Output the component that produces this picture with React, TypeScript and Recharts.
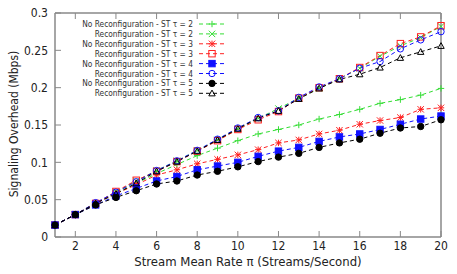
import { LineChart, Line, XAxis, YAxis } from 'recharts';

// stream mean rate (streams/second)
const rates = [1, 2, 3, 4, 5, 6, 7, 8, 9, 10, 11, 12, 13, 14, 15, 16, 17, 18, 19, 20];

// signaling overhead (Mbps)
const noReconfTau2 = [0.016, 0.03, 0.045, 0.058, 0.072, 0.085, 0.097, 0.109, 0.119, 0.129, 0.138, 0.144, 0.15, 0.158, 0.164, 0.171, 0.179, 0.184, 0.19, 0.199];
const reconfTau2 = [0.016, 0.03, 0.045, 0.06, 0.075, 0.089, 0.102, 0.116, 0.13, 0.145, 0.159, 0.172, 0.186, 0.199, 0.212, 0.226, 0.242, 0.256, 0.267, 0.282];
const noReconfTau3 = [0.016, 0.03, 0.045, 0.058, 0.07, 0.083, 0.09, 0.098, 0.104, 0.11, 0.117, 0.126, 0.13, 0.138, 0.143, 0.151, 0.156, 0.16, 0.171, 0.173];
const reconfTau3 = [0.016, 0.03, 0.045, 0.061, 0.076, 0.088, 0.101, 0.115, 0.129, 0.144, 0.157, 0.168, 0.186, 0.2, 0.212, 0.227, 0.243, 0.259, 0.268, 0.283];
const noReconfTau4 = [0.016, 0.03, 0.043, 0.055, 0.065, 0.075, 0.081, 0.09, 0.095, 0.1, 0.108, 0.115, 0.12, 0.128, 0.134, 0.138, 0.144, 0.151, 0.158, 0.162];
const reconfTau4 = [0.016, 0.03, 0.046, 0.06, 0.074, 0.089, 0.102, 0.116, 0.131, 0.146, 0.16, 0.169, 0.187, 0.201, 0.212, 0.226, 0.235, 0.252, 0.264, 0.275];
const noReconfTau5 = [0.016, 0.03, 0.043, 0.053, 0.062, 0.071, 0.075, 0.083, 0.088, 0.094, 0.101, 0.107, 0.112, 0.12, 0.126, 0.131, 0.139, 0.146, 0.148, 0.157];
const reconfTau5 = [0.016, 0.03, 0.045, 0.058, 0.072, 0.088, 0.101, 0.115, 0.13, 0.145, 0.159, 0.169, 0.185, 0.199, 0.211, 0.218, 0.227, 0.24, 0.248, 0.256];

const xTicks = [2, 4, 6, 8, 10, 12, 14, 16, 18, 20];
const yTicks = [0, 0.05, 0.1, 0.15, 0.2, 0.25, 0.3];

const series = [
  { key: 'nr2', name: 'No Reconfiguration - ST \u03c4 = 2', color: '#33dd33', shape: 'plus', values: noReconfTau2 },
  { key: 'r2', name: 'Reconfiguration - ST \u03c4 = 2', color: '#33dd33', shape: 'cross', values: reconfTau2 },
  { key: 'nr3', name: 'No Reconfiguration - ST \u03c4 = 3', color: '#ff2020', shape: 'star', values: noReconfTau3 },
  { key: 'r3', name: 'Reconfiguration - ST \u03c4 = 3', color: '#ff2020', shape: 'openSquare', values: reconfTau3 },
  { key: 'nr4', name: 'No Reconfiguration - ST \u03c4 = 4', color: '#1010ff', shape: 'square', values: noReconfTau4 },
  { key: 'r4', name: 'Reconfiguration - ST \u03c4 = 4', color: '#1010ff', shape: 'openCircle', values: reconfTau4 },
  { key: 'nr5', name: 'No Reconfiguration - ST \u03c4 = 5', color: '#000000', shape: 'circle', values: noReconfTau5 },
  { key: 'r5', name: 'Reconfiguration - ST \u03c4 = 5', color: '#000000', shape: 'openTriangle', values: reconfTau5 },
];

const data = rates.map((rate, i) => {
  const row: Record<string, number> = { rate };
  series.forEach((s) => {
    row[s.key] = s.values[i];
  });
  return row;
});

const FONT = '"DejaVu Sans Condensed", "DejaVu Sans", sans-serif';
const AXIS = '#888888';

function Marker({ shape, color, cx, cy }: { shape: string; color: string; cx: number; cy: number }) {
  const s = 3.2;
  const w = 1;
  switch (shape) {
    case 'plus':
      return (
        <g stroke={color} strokeWidth={w}>
          <line x1={cx - s} y1={cy} x2={cx + s} y2={cy} />
          <line x1={cx} y1={cy - s} x2={cx} y2={cy + s} />
        </g>
      );
    case 'cross':
      return (
        <g stroke={color} strokeWidth={w}>
          <line x1={cx - s} y1={cy - s} x2={cx + s} y2={cy + s} />
          <line x1={cx - s} y1={cy + s} x2={cx + s} y2={cy - s} />
        </g>
      );
    case 'star':
      return (
        <g stroke={color} strokeWidth={w}>
          <line x1={cx - s} y1={cy} x2={cx + s} y2={cy} />
          <line x1={cx} y1={cy - s} x2={cx} y2={cy + s} />
          <line x1={cx - s} y1={cy - s} x2={cx + s} y2={cy + s} />
          <line x1={cx - s} y1={cy + s} x2={cx + s} y2={cy - s} />
        </g>
      );
    case 'openSquare':
      return <rect x={cx - s} y={cy - s} width={2 * s} height={2 * s} fill="none" stroke={color} strokeWidth={w} />;
    case 'square':
      return <rect x={cx - s} y={cy - s} width={2 * s} height={2 * s} fill={color} stroke={color} strokeWidth={w} />;
    case 'openCircle':
      return <circle cx={cx} cy={cy} r={s} fill="none" stroke={color} strokeWidth={w} />;
    case 'circle':
      return <circle cx={cx} cy={cy} r={s} fill={color} stroke={color} strokeWidth={w} />;
    default:
      return (
        <polygon
          points={`${cx},${cy - s} ${cx + s},${cy + s * 0.8} ${cx - s},${cy + s * 0.8}`}
          fill="none"
          stroke={color}
          strokeWidth={w}
        />
      );
  }
}

function makeDot(shape: string, color: string) {
  return (props: any) => {
    const { cx, cy, index } = props;
    if (cx == null || cy == null) return <g key={index} />;
    return (
      <g key={index}>
        <Marker shape={shape} color={color} cx={cx} cy={cy} />
      </g>
    );
  };
}

function LegendBox() {
  return (
    <svg width={230} height={100} style={{ position: 'absolute', left: 0, top: 0, pointerEvents: 'none' }}>
      {series.map((s, i) => {
        const y = 24 + i * 9.9;
        return (
          <g key={s.key}>
            <text x={193} y={y} textAnchor="end" dominantBaseline="central" fontSize={8.3} fontFamily={FONT} fill="#333">
              {s.name}
            </text>
            <line x1={199} y1={y} x2={225} y2={y} stroke={s.color} strokeDasharray="4 3" strokeWidth={1} />
            <Marker shape={s.shape} color={s.color} cx={212} cy={y} />
          </g>
        );
      })}
    </svg>
  );
}

export default function App() {
  return (
    <div style={{ position: 'fixed', left: 0, top: 0, width: 457, height: 274, background: '#fff' }}>
      <LineChart width={457} height={274} data={data} margin={{ top: 0, right: 0, bottom: 0, left: 0 }}>
        <XAxis
          xAxisId="bottom"
          dataKey="rate"
          type="number"
          domain={[1, 20]}
          ticks={xTicks}
          orientation="bottom"
          height={37}
          tickSize={-6}
          tickMargin={10}
          axisLine={{ stroke: AXIS, strokeWidth: 1.5 }}
          tickLine={{ stroke: AXIS }}
          tick={{ fill: '#222', fontSize: 12, fontFamily: FONT }}
          label={{
            content: () => (
              <text x={248} y={266} textAnchor="middle" fontSize={13} fontFamily={FONT} fill="#222">
                Stream Mean Rate {'\u03c0'} (Streams/Second)
              </text>
            ),
          }}
        />
        <XAxis
          xAxisId="top"
          dataKey="rate"
          type="number"
          domain={[1, 20]}
          ticks={xTicks}
          orientation="top"
          height={13}
          tickSize={-6}
          axisLine={{ stroke: AXIS, strokeWidth: 1.5 }}
          tickLine={{ stroke: AXIS }}
          tickFormatter={() => ''}
        />
        <YAxis
          yAxisId="left"
          type="number"
          domain={[0, 0.3]}
          ticks={yTicks}
          orientation="left"
          width={55}
          tickSize={-6}
          tickMargin={13}
          axisLine={{ stroke: AXIS, strokeWidth: 1.5 }}
          tickLine={{ stroke: AXIS }}
          tick={{ fill: '#222', fontSize: 12, fontFamily: FONT }}
          label={{
            content: () => (
              <text
                x={14}
                y={124}
                transform="rotate(-90 14 124)"
                textAnchor="middle"
                dominantBaseline="central"
                fontSize={12}
                fontFamily={FONT}
                fill="#222"
              >
                Signaling Overhead (Mbps)
              </text>
            ),
          }}
        />
        <YAxis
          yAxisId="right"
          type="number"
          domain={[0, 0.3]}
          ticks={yTicks}
          orientation="right"
          width={16}
          tickSize={-6}
          axisLine={{ stroke: AXIS, strokeWidth: 1.5 }}
          tickLine={{ stroke: AXIS }}
          tickFormatter={() => ''}
        />
        {series.map((s) => (
          <Line
            key={s.key}
            xAxisId="bottom"
            yAxisId="left"
            dataKey={s.key}
            name={s.name}
            stroke={s.color}
            strokeWidth={1}
            strokeDasharray="4 3"
            dot={makeDot(s.shape, s.color)}
            activeDot={false}
            isAnimationActive={false}
            type="linear"
          />
        ))}
      </LineChart>
      <LegendBox />
    </div>
  );
}
